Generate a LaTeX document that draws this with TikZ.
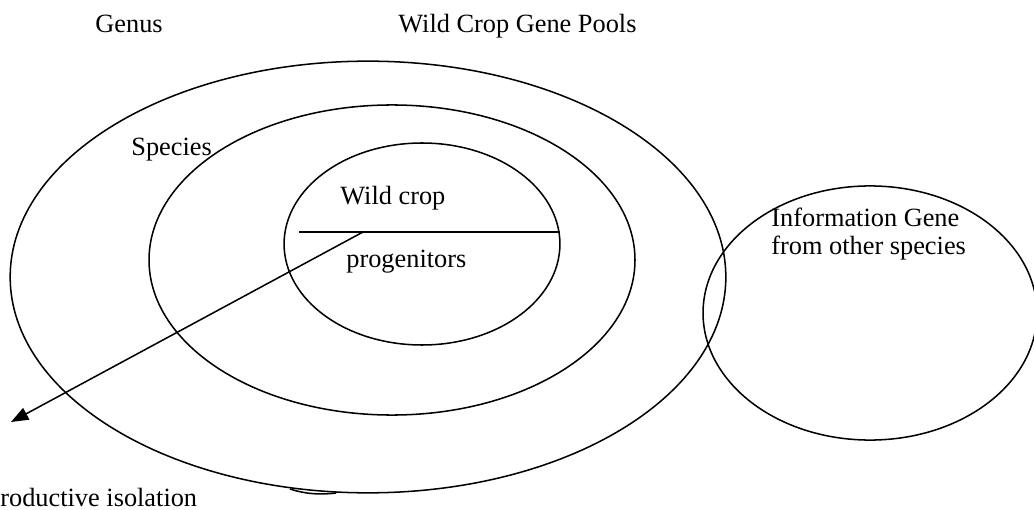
\documentclass[tikz,border=0pt]{standalone}
\usepackage{fontspec}
\setmainfont{Liberation Serif}
\usetikzlibrary{arrows.meta,shapes.geometric,positioning}
\tikzset{
  pool/.style={draw, ellipse, line width=0.8pt, inner sep=0pt},
  lbl/.style={font=\fontsize{13.8}{16}\selectfont, anchor=base west, inner sep=0pt},
  isoline/.style={line width=0.8pt},
  isoarrow/.style={-{Triangle[length=3.2mm, width=2.4mm]}, line width=0.8pt}
}
\begin{document}
\begin{tikzpicture}[x=0.524pt, y=-0.524pt]
  \useasboundingbox (0,0) rectangle (1034,510);
  % nested gene pools
  \node[pool, minimum width=131.8mm, minimum height=79.5mm] (genus) at (368,277) {};
  \node[pool, minimum width=89.5mm, minimum height=57.1mm] (species) at (392,260) {};
  \node[pool, minimum width=50.8mm, minimum height=37.2mm] (wild) at (422,244) {};
  \node[pool, minimum width=61.5mm, minimum height=46.8mm] (info) at (870,313) {};
  % small overlap at the bottom of the genus ring
  \draw[isoline] (290,489) .. controls (305,494) and (320,495) .. (336,493);
  % labels
  \node[lbl] (genuslbl) at (95,33) {Genus};
  \node[lbl] (title) at (398,33) {Wild Crop Gene Pools};
  \node[lbl] (specieslbl) at (131,156) {Species};
  \node[lbl] (wildlbl) at (340,205) {Wild crop};
  \node[lbl] (proglbl) at (346,267) {progenitors};
  \node[lbl] (infolbl) at (771,227) {Information Gene};
  \node[lbl] (infolbl2) at (771,255) {from other species};
  \node[lbl] (isolbl) at (0,506) {roductive isolation};
  % divider and isolation arrow
  \coordinate (divl) at (299,232);
  \coordinate (divr) at (560,232);
  \coordinate (divm) at (363,232);
  \coordinate (isotip) at (11,422);
  \draw[isoline] (divl) -- (divr);
  \draw[isoarrow] (divm) -- (isotip);
\end{tikzpicture}
\end{document}
